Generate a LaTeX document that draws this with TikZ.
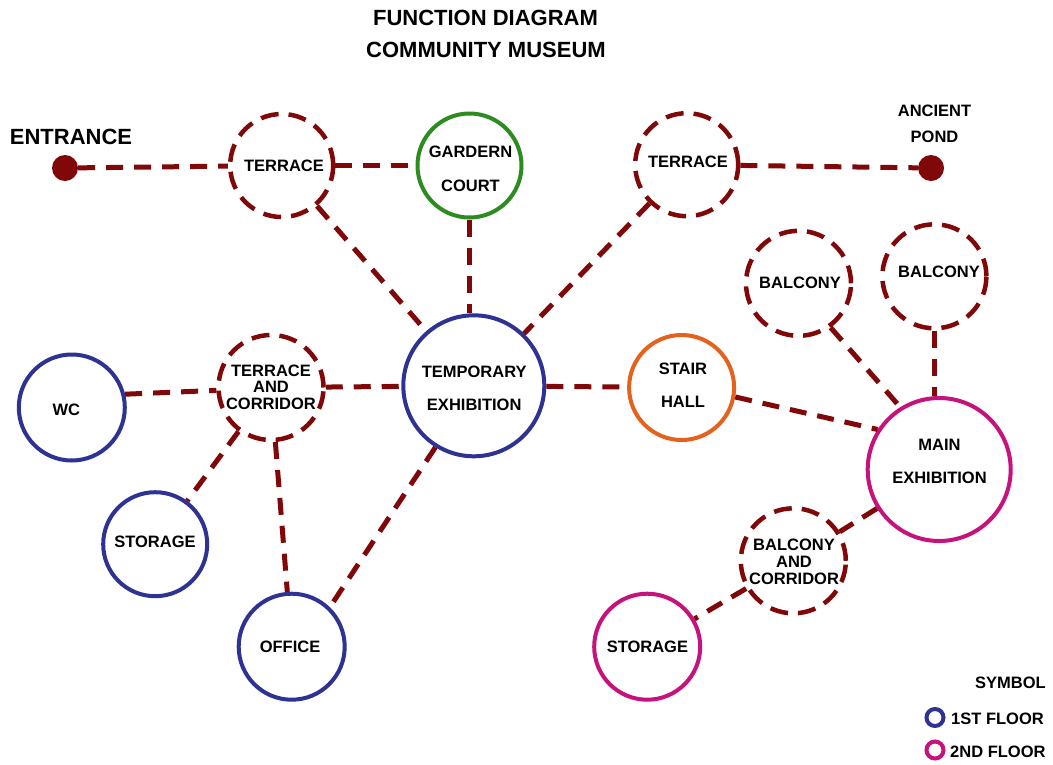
\documentclass[tikz,border=0pt]{standalone}
\usepackage{fontspec}
\setmainfont{Liberation Sans}
\definecolor{dred}{RGB}{128,8,8}
\definecolor{fblue}{RGB}{46,50,146}
\definecolor{fgreen}{RGB}{44,140,32}
\definecolor{forange}{RGB}{226,98,30}
\definecolor{fmag}{RGB}{198,18,124}
\begin{document}
\begin{tikzpicture}[x=1pt,y=-1pt,
  room/.style={circle, draw=#1, line width=4pt, inner sep=0pt},
  droom/.style={circle, draw=dred, line width=4.5pt, dash pattern=on 18pt off 10pt, inner sep=0pt},
  dot/.style={circle, fill=dred, inner sep=0pt, minimum size=26pt},
  link/.style={draw=dred, line width=5pt, dash pattern=on 17pt off 11pt},
  lbl/.style={font=\bfseries\fontsize{16.5}{33}\selectfont, align=center, inner sep=0pt},
  lbltight/.style={font=\bfseries\fontsize{16.5}{16.7}\selectfont, align=center, inner sep=0pt},
  big/.style={font=\bfseries\fontsize{22}{26}\selectfont, align=center, inner sep=0pt},
  legring/.style={circle, draw=#1, line width=4pt, inner sep=0pt, minimum size=17pt}]
\useasboundingbox[fill=white] (0,0) rectangle (1053,764);

% titles
\node[big] (title1) at (485.5,17.5) {FUNCTION DIAGRAM};
\node[big] (title2) at (486,50) {COMMUNITY MUSEUM};

% rooms
\node[dot] (ent) at (65,168) {};
\node[dot] (pond) at (931,168) {};
\node[droom, minimum size=103pt] (t1) at (281.7,165.5) {};
\node[room=fgreen, minimum size=104pt] (gc) at (469.5,165.5) {};
\node[droom, minimum size=103pt] (t2) at (686.7,164.7) {};
\node[droom, minimum size=105pt] (bal1) at (798.5,283.3) {};
\node[droom, minimum size=104pt] (bal2) at (934.4,276.3) {};
\node[room=fblue, minimum size=141pt] (temp) at (473.8,385.8) {};
\node[droom, minimum size=105pt] (tc) at (271,387.5) {};
\node[room=fblue, minimum size=106pt] (wc) at (71.8,407.5) {};
\node[room=fblue, minimum size=104pt] (st1) at (155.2,544.2) {};
\node[room=fblue, minimum size=106pt] (office) at (291.7,646.7) {};
\node[room=forange, minimum size=105pt] (stair) at (681.6,387.5) {};
\node[room=fmag, minimum size=143pt] (main) at (939.2,469.5) {};
\node[droom, minimum size=105pt] (bc) at (793.3,560.8) {};
\node[room=fmag, minimum size=106pt] (st2) at (647.2,646.7) {};

% texts
\node[big] (ent-t) at (71,137) {ENTRANCE};
\node[lbl, font=\bfseries\fontsize{16.5}{26}\selectfont] (pond-t) at (934.5,124) {ANCIENT\\POND};
\node[lbl] (t1-t) at (284,165.8) {TERRACE};
\node[lbl, font=\bfseries\fontsize{16.5}{33.5}\selectfont] (gc-t) at (470.5,169) {GARDERN\\COURT};
\node[lbl] (t2-t) at (688,161.7) {TERRACE};
\node[lbl] (bal1-t) at (800,283.3) {BALCONY};
\node[lbl] (bal2-t) at (939,272.3) {BALCONY};
\node[lbl] (temp-t) at (474.2,388.7) {TEMPORARY\\EXHIBITION};
\node[lbltight] (tc-t) at (271,387.3) {TERRACE\\AND\\CORRIDOR};
\node[lbl] (wc-t) at (66.4,410.3) {WC};
\node[lbl] (st1-t) at (155,541.7) {STORAGE};
\node[lbl] (office-t) at (290,646.7) {OFFICE};
\node[lbl] (stair-t) at (683,385.4) {STAIR\\HALL};
\node[lbl] (main-t) at (939.5,460.9) {MAIN\\EXHIBITION};
\node[lbltight] (bc-t) at (794,562) {BALCONY\\AND\\CORRIDOR};
\node[lbl] (st2-t) at (647.4,647.3) {STORAGE};

% connectors
\path[link] (ent) -- (t1);
\path[link] (t1) -- (gc);
\path[link] (t1) -- (temp);
\path[link] (gc) -- (gc |- temp.north);
\path[link] (t2) -- (temp);
\path[link] (t2) -- (pond);
\path[link] (tc) -- (temp);
\path[link] (wc.14) -- (tc.183);
\path[link] (temp) -- (stair);
\path[link] (tc) -- (st1);
\path[link] (tc) -- (office);
\path[link] (temp.238) -- (office.46);
\path[link] (stair.-10) -- (main.147);
\path[link] (bal1.-54) -- (main.122);
\path[link] (bal2) -- (bal2 |- main.north);
\path[link] (main) -- (bc);
\path[link] (bc) -- (st2);

% legend
\node[lbl, anchor=east] (sym) at (1046,683) {SYMBOL};
\node[legring=fblue] (leg1) at (935,717.5) {};
\node[legring=fmag] (leg2) at (935,750) {};
\node[lbl, anchor=west] (leg1-t) at (951,719) {1ST FLOOR};
\node[lbl, anchor=west] (leg2-t) at (950,751.8) {2ND FLOOR};
\end{tikzpicture}
\end{document}
